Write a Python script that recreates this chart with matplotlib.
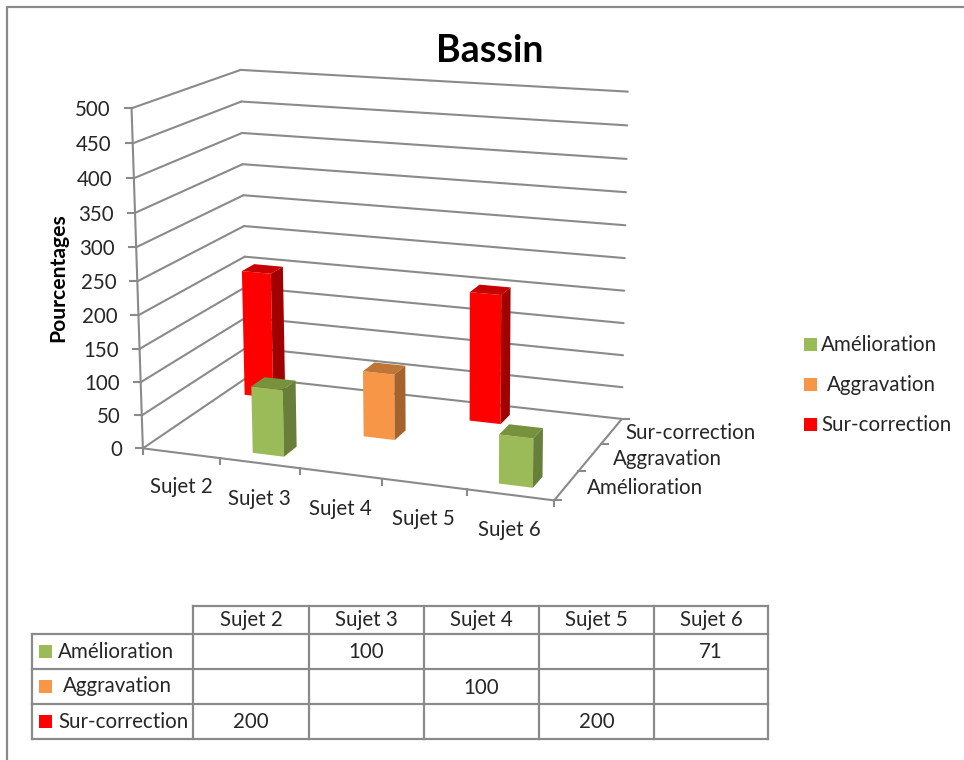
import numpy as np
import matplotlib
matplotlib.use('Agg')
import matplotlib.pyplot as plt
from matplotlib.patches import Polygon, Rectangle

plt.rcParams['font.family'] = ['Lato', 'DejaVu Sans']

subjects = ['Sujet 2', 'Sujet 3', 'Sujet 4', 'Sujet 5', 'Sujet 6']
series_names = ['Amélioration', 'Aggravation', 'Sur-correction']
amelioration = [None, 100, None, None, 71]
aggravation = [None, None, 100, None, None]
sur_correction = [200, None, None, 200, None]
z_ticks = [0, 50, 100, 150, 200, 250, 300, 350, 400, 450, 500]

series_values = [amelioration, aggravation, sur_correction]

GRID = '#8a8a8a'
TEXT = '#262626'
FONT = 14.8
# front, top and side shades of each series
shades = [('#9BBB59', '#76923C', '#677F38'),
          ('#F79646', '#BE7535', '#A4622C'),
          ('#FF0000', '#C80000', '#A00000')]

# camera of the 3D box: box corners (subject, series, value) and where they land
box_corners = [(0, 0, 0), (5, 0, 0), (5, 3, 0), (0, 3, 0),
               (0, 0, 500), (0, 3, 500), (5, 3, 500)]
screen_corners = [(143.5, 449), (553, 501), (622.7, 418), (247, 377),
                  (132, 107), (240, 70.7), (628, 92)]


def fit_camera(world, screen):
    '''
    Solve the 3x4 projective camera matrix from point pairs.
    '''
    rows = []
    for (x, y, z), (u, v) in zip(world, screen):
        # value axis scaled down so the system stays well conditioned
        z = z / 100
        rows.append([x, y, z, 1, 0, 0, 0, 0, -u*x, -u*y, -u*z, -u])
        rows.append([0, 0, 0, 0, x, y, z, 1, -v*x, -v*y, -v*z, -v])
    return np.linalg.svd(np.array(rows))[2][-1].reshape(3, 4)


camera = fit_camera(box_corners, screen_corners)


def project(x, y, z):
    p = camera @ np.array([x, y, z / 100, 1])
    return p[0] / p[2], p[1] / p[2]


def line3d(ax, start, end, lw=1.5):
    a, b = project(*start), project(*end)
    ax.plot([a[0], b[0]], [a[1], b[1]], color=GRID, lw=lw, solid_capstyle='round')


def bar3d(ax, i, s, value, colors):
    '''
    One box of the chart, only the three visible faces.
    '''
    x0, x1 = i + 0.275, i + 0.67
    y0, y1 = s + 0.3, s + 0.68
    faces = [
        (colors[0], [(x0, y0, 0), (x1, y0, 0), (x1, y0, value), (x0, y0, value)]),
        (colors[1], [(x0, y0, value), (x1, y0, value), (x1, y1, value), (x0, y1, value)]),
        (colors[2], [(x1, y0, 0), (x1, y1, 0), (x1, y1, value), (x1, y0, value)]),
    ]
    for color, corners in faces:
        ax.add_patch(Polygon([project(*c) for c in corners], closed=True,
                             facecolor=color, edgecolor='none', zorder=3))


fig = plt.figure(figsize=(9.64, 7.6), dpi=100)
ax = fig.add_axes([0, 0, 1, 1])
ax.set_xlim(0, 964)
ax.set_ylim(760, 0)
ax.axis('off')

# outer frame of the chart area, open on the right and at the bottom
ax.plot([7, 7, 964], [760, 6.5, 6.5], color=GRID, lw=1.6)

ax.text(490, 50.5, 'Bassin', fontsize=27, fontweight='bold', color='black',
        ha='center', va='center')
ax.text(58.5, 278, 'Pourcentages', fontsize=15.2, fontweight='bold', color='black',
        rotation=90, ha='center', va='center')

# walls and floor
for z in z_ticks:
    line3d(ax, (0, 0, z), (0, 3, z))
    line3d(ax, (0, 3, z), (5, 3, z))
    u, v = project(0, 0, z)
    ax.plot([u - 7, u], [v, v], color=GRID, lw=1.5)
    ax.text(u - 21, v + 2, str(z), fontsize=FONT, color=TEXT, ha='right', va='center')
line3d(ax, (0, 0, 0), (0, 0, 500))
line3d(ax, (0, 0, 0), (5, 0, 0))
line3d(ax, (5, 0, 0), (5, 3, 0))

for i in range(len(subjects) + 1):
    u, v = project(i, 0, 0)
    ax.plot([u, u], [v, v + 6], color=GRID, lw=1.5)
for s in range(len(series_names) + 1):
    u, v = project(5, s, 0)
    ax.plot([u, u + 7], [v, v], color=GRID, lw=1.5)

subject_label_pos = [(181, 487), (259, 499), (340, 509), (423, 519), (509, 530)]
for name, (u, v) in zip(subjects, subject_label_pos):
    ax.text(u, v, name, fontsize=FONT, color=TEXT, ha='center', va='center')

series_label_pos = [(645, 488), (667, 459), (691, 433)]
for name, (u, v) in zip(series_names, series_label_pos):
    ax.text(u, v, name, fontsize=FONT, color=TEXT, ha='center', va='center')

# back series first so nearer boxes cover them
for s in reversed(range(len(series_names))):
    for i, value in enumerate(series_values[s]):
        if value is not None:
            bar3d(ax, i, s, value, shades[s])

# legend on the right
legend_rows = [(344, 821), (384, 827), (424, 821)]
for s, (v, text_x) in enumerate(legend_rows):
    ax.add_patch(Rectangle((804, v - 6), 12.5, 12.5, facecolor=shades[s][0], edgecolor='none'))
    ax.text(text_x, v + 1, series_names[s], fontsize=FONT, color=TEXT, ha='left', va='center')

# data table under the chart
col_edges = [193, 309, 424, 539, 654, 768]
row_edges = [606, 634, 669, 704, 739]
table_left = 32
name_x = [58, 63, 58]

ax.plot([col_edges[0], col_edges[-1]], [row_edges[0], row_edges[0]], color=GRID, lw=1.6)
for v in row_edges[1:]:
    ax.plot([table_left, col_edges[-1]], [v, v], color=GRID, lw=1.6)
ax.plot([table_left, table_left], [row_edges[1], row_edges[-1]], color=GRID, lw=1.6)
for u in col_edges:
    ax.plot([u, u], [row_edges[0], row_edges[-1]], color=GRID, lw=1.6)

for i, name in enumerate(subjects):
    ax.text((col_edges[i] + col_edges[i + 1]) / 2, 620.5, name, fontsize=FONT, color=TEXT,
            ha='center', va='center')
for s, name in enumerate(series_names):
    mid = (row_edges[s + 1] + row_edges[s + 2]) / 2
    ax.add_patch(Rectangle((39, mid - 6.5), 13, 13, facecolor=shades[s][0], edgecolor='none'))
    ax.text(name_x[s], mid, name, fontsize=FONT, color=TEXT, ha='left', va='center')
    for i, value in enumerate(series_values[s]):
        if value is not None:
            ax.text((col_edges[i] + col_edges[i + 1]) / 2, mid + 1, str(value), fontsize=FONT,
                    color=TEXT, ha='center', va='center')

fig.savefig('out.png', dpi=100, facecolor='white')
